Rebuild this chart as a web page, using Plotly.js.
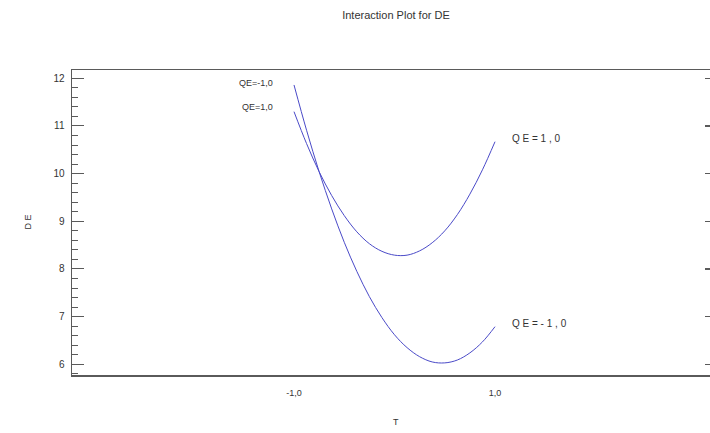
<!DOCTYPE html>
<html>
<head>
<meta charset="utf-8">
<script src="https://cdn.plot.ly/plotly-3.0.1.min.js"></script>
<style>
  html, body { margin: 0; padding: 0; background: #fff; overflow: hidden; }
  #chart { width: 712px; height: 433px; }
</style>
</head>
<body>
<div id="chart"></div>
<script>
// Factor T levels along the horizontal axis
const tLevels = [-1, -0.875, -0.75, -0.625, -0.5, -0.375, -0.25, -0.125, 0,
                 0.125, 0.25, 0.375, 0.5, 0.625, 0.75, 0.875, 1];

// Mean DE response for QE = 1,0
const deQEpos = [11.30, 10.63, 10.04, 9.54, 9.12, 8.78, 8.53, 8.37, 8.29,
                 8.29, 8.38, 8.55, 8.80, 9.14, 9.57, 10.08, 10.67];

// Mean DE response for QE = -1,0
const deQEneg = [11.86, 10.91, 10.04, 9.26, 8.56, 7.95, 7.42, 6.98, 6.62,
                 6.35, 6.16, 6.05, 6.03, 6.09, 6.24, 6.47, 6.79];

const xTickVals = [-1, 1];
const xTickText = ['-1,0', '1,0'];
const yTickVals = [6, 7, 8, 9, 10, 11, 12];

const lineColor = '#4a4ac8';
const axisColor = '#5a5a5a';
const textColor = '#333333';
const font = 'Liberation Sans, Arial, sans-serif';

const traces = [
  { x: tLevels, y: deQEneg, mode: 'lines', name: 'QE=-1,0',
    line: { color: lineColor, width: 1, shape: 'spline' }, hoverinfo: 'skip' },
  { x: tLevels, y: deQEpos, mode: 'lines', name: 'QE=1,0',
    line: { color: lineColor, width: 1, shape: 'spline' }, hoverinfo: 'skip' },
  // invisible trace so the right-hand tick axis is drawn
  { x: [tLevels[0]], y: [deQEpos[0]], yaxis: 'y2', mode: 'markers',
    marker: { opacity: 0 }, showlegend: false, hoverinfo: 'skip' }
];

const last = tLevels.length - 1;

const layout = {
  width: 712, height: 433,
  margin: { l: 72, r: 0, t: 70, b: 58 },
  paper_bgcolor: '#ffffff', plot_bgcolor: '#ffffff',
  showlegend: false,
  font: { family: font, size: 10, color: textColor },
  title: { text: 'Interaction Plot for DE', x: (396 - 0) / 712, xref: 'container', xanchor: 'center',
           y: 1 - 15 / 433, yanchor: 'middle', yref: 'container',
           font: { family: font, size: 11, color: textColor } },
  xaxis: {
    range: [-3.209, 3.159], showgrid: false, zeroline: false,
    showline: true, linecolor: axisColor, linewidth: 1.5, mirror: true,
    ticks: '', tickvals: xTickVals, ticktext: xTickText,
    tickfont: { family: font, size: 9, color: textColor },
    ticklabelstandoff: 9
  },
  yaxis: {
    range: [5.776, 12.174], showgrid: false, zeroline: false,
    showline: true, linecolor: axisColor, linewidth: 1.5,
    ticks: 'inside', ticklen: 12, tickwidth: 1, tickcolor: axisColor,
    tickvals: yTickVals,
    tickfont: { family: font, size: 10, color: textColor },
    ticklabelstandoff: 4,
    minor: { ticks: 'inside', ticklen: 6, tickwidth: 1, tickcolor: axisColor, dtick: 0.2, tick0: 6 }
  },
  yaxis2: {
    overlaying: 'y', side: 'right', range: [5.776, 12.174],
    showgrid: false, zeroline: false, showline: false,
    ticks: 'inside', ticklen: 7, tickwidth: 1.5, tickcolor: axisColor,
    tickvals: yTickVals, showticklabels: false
  },
  annotations: [
    { text: 'D E', xref: 'paper', yref: 'paper', x: (20 - 72) / 640, y: 0.5,
      textangle: -90, showarrow: false, font: { family: font, size: 9, color: textColor } },
    { text: 'T', xref: 'paper', yref: 'paper', x: (396 - 72) / 640, y: -(422 - 375) / 305,
      yanchor: 'middle', showarrow: false, font: { family: font, size: 9, color: textColor } },
    // series labels at the left ends of the curves
    { text: traces[0].name, x: -1.19, y: 11.91, xanchor: 'right', yanchor: 'middle',
      showarrow: false, font: { family: font, size: 9, color: textColor } },
    { text: traces[1].name, x: -1.19, y: 11.40, xanchor: 'right', yanchor: 'middle',
      showarrow: false, font: { family: font, size: 9, color: textColor } },
    // series labels at the right ends of the curves
    { text: 'Q E = 1 , 0', x: 1.15, y: deQEpos[last] + 0.07, xanchor: 'left', yanchor: 'middle',
      showarrow: false, font: { family: font, size: 10, color: textColor } },
    { text: 'Q E = - 1 , 0', x: 1.15, y: deQEneg[last] + 0.07, xanchor: 'left', yanchor: 'middle',
      showarrow: false, font: { family: font, size: 10, color: textColor } }
  ]
};

Plotly.newPlot('chart', traces, layout, { staticPlot: true, displayModeBar: false });
</script>
</body>
</html>
